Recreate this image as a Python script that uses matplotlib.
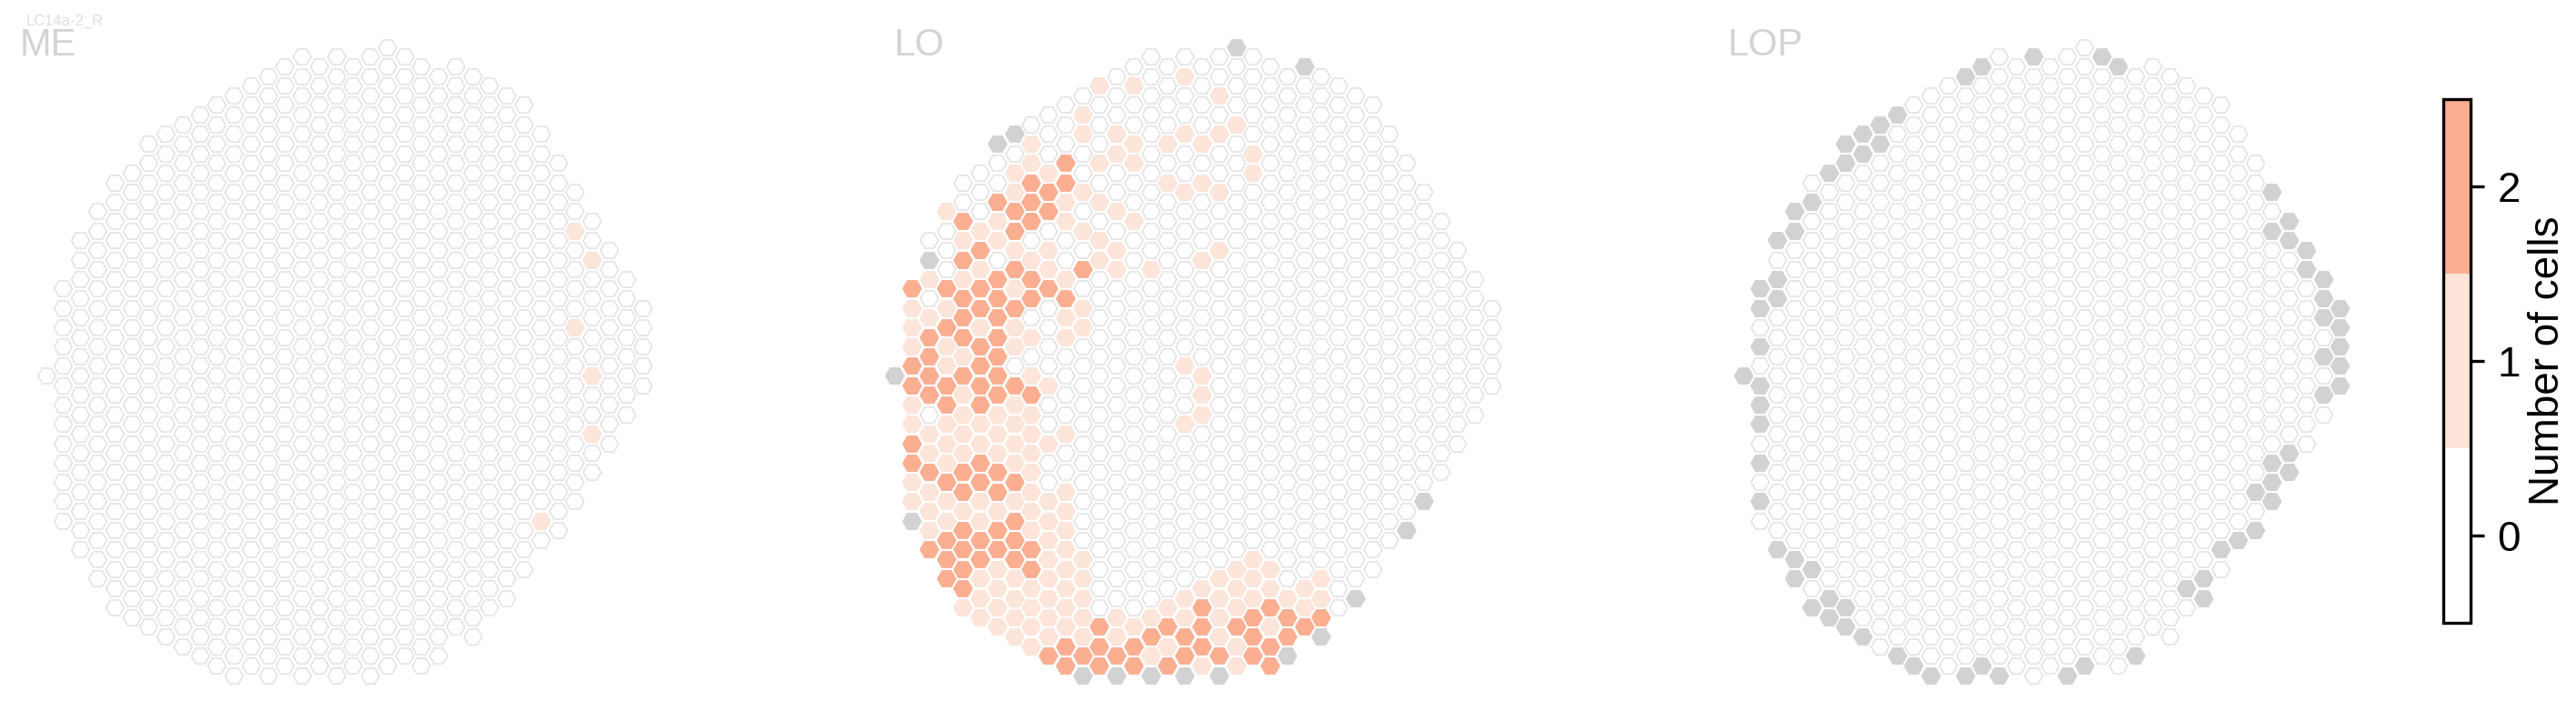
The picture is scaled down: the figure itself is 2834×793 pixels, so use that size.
import numpy as np
import matplotlib
matplotlib.use('Agg')
import matplotlib.pyplot as plt
from matplotlib.colors import ListedColormap, BoundaryNorm
from matplotlib.cm import ScalarMappable

plt.rcParams['font.family'] = ['Liberation Sans', 'DejaVu Sans']

# hex lattice: top and bottom row of each column (rows are half steps)
col_top = [0, 9, 14, 17, 20, 21, 24, 25, 26, 27, 28, 29, 30, 31, 32, 33, 32, 33,
           32, 33, 34, 33, 32, 31, 32, 31, 30, 29, 28, 25, 22, 19, 16, 13, 10, 7]
col_bottom = [0, -15, -18, -21, -24, -25, -26, -27, -28, -29, -30, -31, -30, -31, -30, -31, -30, -31,
              -30, -31, -30, -29, -30, -29, -26, -27, -24, -23, -20, -17, -16, -13, -10, -7, -4, -1]

# column -> rows, for every count
me_one = {29: [-15], 31: [15, 5], 32: [12, 0, -6]}

lo_gray = {0: [0], 1: [-15], 2: [12], 6: [24], 7: [25], 11: [-31], 13: [-31], 15: [-31], 17: [-31],
           19: [-31], 20: [34], 23: [-29], 24: [32], 25: [-27], 27: [-23], 30: [-16], 31: [-13]}
lo_one = {
    1: [7, 5, 3, -3, -5, -11, -13],
    2: [10, 6, -6, -8, -12, -14, -16],
    3: [17, 7, 3, 1, -5, -7, -9, -13, -15],
    4: [14, 10, 2, -2, -4, -6, -8, -14, -24],
    5: [15, 11, 5, -5, -7, -13, -15, -21, -23, -25],
    6: [16, 14, -4, -6, -8, -14, -20, -22, -24, -26],
    7: [21, 19, 13, 9, 5, 3, -3, -5, -7, -9, -13, -21, -23, -25, -27],
    8: [24, 22, 12, 4, 0, -4, -6, -8, -10, -12, -14, -16, -22, -24, -26, -28],
    9: [21, 13, 11, -1, -7, -13, -15, -17, -19, -21, -23, -25, -27],
    10: [18, 16, 10, 6, 4, -6, -12, -14, -16, -18, -20, -22, -24, -26],
    11: [27, 25, 19, 15, 7, 5, -19, -21, -23, -25, -27],
    12: [30, 22, 18, 14, 12],
    13: [25, 23, 17, 13, 11, -25, -27],
    14: [30, 24, 22, 16, -26],
    15: [11, -25, -29],
    16: [24, 20, -24, -28],
    17: [31, 25, 19, 1, -5, -23, -25],
    18: [24, 20, 12, 0, -2, -4, -22, -30],
    19: [29, 25, 19, 13, -21, -23, -25, -27],
    20: [26, -20, -22, -24, -28, -30],
    21: [23, 21, -19, -21, -23],
    22: [-20, -22, -26],
    23: [-23],
    24: [-22, -24],
    25: [-21, -23],
}
lo_two = {
    1: [9, 1, -1, -7, -9],
    2: [4, 2, 0, -2, -10, -18],
    3: [9, 5, -1, -3, -11, -17, -19, -21],
    4: [16, 12, 8, 6, 4, 0, -10, -12, -16, -18, -20, -22],
    5: [13, 9, 7, 3, 1, -1, -3, -9, -11, -17, -19],
    6: [18, 10, 8, 6, 4, 2, 0, -2, -10, -12, -16, -18],
    7: [17, 15, 11, 7, -1, -11, -15, -17, -19],
    8: [20, 18, 16, 10, 8, -2, -18, -20],
    9: [19, 17, 9, -29],
    10: [22, 20, 8, -28, -30],
    11: [11, -29],
    12: [-26, -28, -30],
    13: [-29],
    14: [-28, -30],
    15: [-27],
    16: [-26, -30],
    17: [-27, -29],
    18: [-24, -26, -28],
    19: [-29],
    20: [-26],
    21: [-25, -27, -29],
    22: [-24, -28, -30],
    23: [-25, -27],
    24: [-26],
    25: [-25],
}

lop_gray = {
    0: [0], 1: [9, 7, 3, -1, -3, -5, -9, -13], 2: [14, 10, 8, -18], 3: [17, 15, -19, -21],
    4: [18, -20, -24], 5: [21, -23, -25], 6: [24, 22, -24, -26], 7: [25, 23, -27], 8: [26, 24],
    9: [27, -29], 10: [-30], 11: [-31], 13: [31, -31], 14: [32, -30], 15: [-31], 17: [33],
    19: [-31], 20: [-30], 21: [33], 22: [32], 23: [-29], 26: [-22], 27: [-21, -23], 28: [-18],
    29: [-17], 30: [-12, -16], 31: [19, 15, -9, -11, -13], 32: [16, 14, -8, -10], 33: [13, 11],
    34: [10, 8, 6, 2, -2], 35: [7, 5, 3, 1, -1],
}

panel_names = ['ME', 'LO', 'LOP']
count_ticks = [0, 1, 2]
count_colors = ['#ffffff', '#fee5d9', '#fcae91']
gray_color = '#d2d2d2'
edge_color = '#e0e0e0'

W, H = 2834, 793
col_px, row_px = 18.76, 10.63
panel_x = [50.7, 984.3, 1917.7]
panel_y = 413.1
text_x = [22, 984, 1901]


def expand(cells):
    x = [c for c, rows in cells.items() for r in rows]
    y = [r for c, rows in cells.items() for r in rows]
    return x, y


fig = plt.figure(figsize=(W / 300, H / 300), dpi=300)

grid_x = [c for c in range(len(col_top)) for r in range(col_bottom[c], col_top[c] + 1, 2)]
grid_y = [r for c in range(len(col_top)) for r in range(col_bottom[c], col_top[c] + 1, 2)]

panel_cells = [
    [(me_one, count_colors[1])],
    [(lo_one, count_colors[1]), (lo_two, count_colors[2]), (lo_gray, gray_color)],
    [(lop_gray, gray_color)],
]

for i, name in enumerate(panel_names):
    ax = fig.add_axes([(panel_x[i] - 30) / W, 0, 720 / W, 1])
    ax.set_xlim(-30 / col_px, 690 / col_px)
    ax.set_ylim((panel_y - H) / row_px, panel_y / row_px)
    ax.axis('off')
    ax.scatter(grid_x, grid_y, s=22.5, marker='H', facecolor='white', edgecolor=edge_color,
               linewidth=0.35, joinstyle='round', clip_on=False)
    for cells, color in panel_cells[i]:
        x, y = expand(cells)
        ax.scatter(x, y, s=22.5, marker='H', facecolor=color, edgecolor=color,
                   linewidth=0.4, joinstyle='round', clip_on=False)
    fig.text(text_x[i] / W, 1 - 61 / H, name, fontsize=10, color='#d3d3d3', va='baseline')

fig.text(29 / W, 1 - 28 / H, 'LC14a-2_R', fontsize=4, color='#dedede', va='baseline')

# discrete colorbar
cax = fig.add_axes([2688.4 / W, 1 - 685.3 / H, 29.9 / W, 576.6 / H])
cmap = ListedColormap(count_colors)
norm = BoundaryNorm([-0.5, 0.5, 1.5, 2.5], cmap.N)
cbar = fig.colorbar(ScalarMappable(norm=norm, cmap=cmap), cax=cax, ticks=count_ticks)
cbar.ax.minorticks_off()
cbar.ax.tick_params(labelsize=11, length=3.5, width=0.8)
cbar.set_label('Number of cells', fontsize=11, labelpad=2)

fig.savefig('out.png', dpi=300)
